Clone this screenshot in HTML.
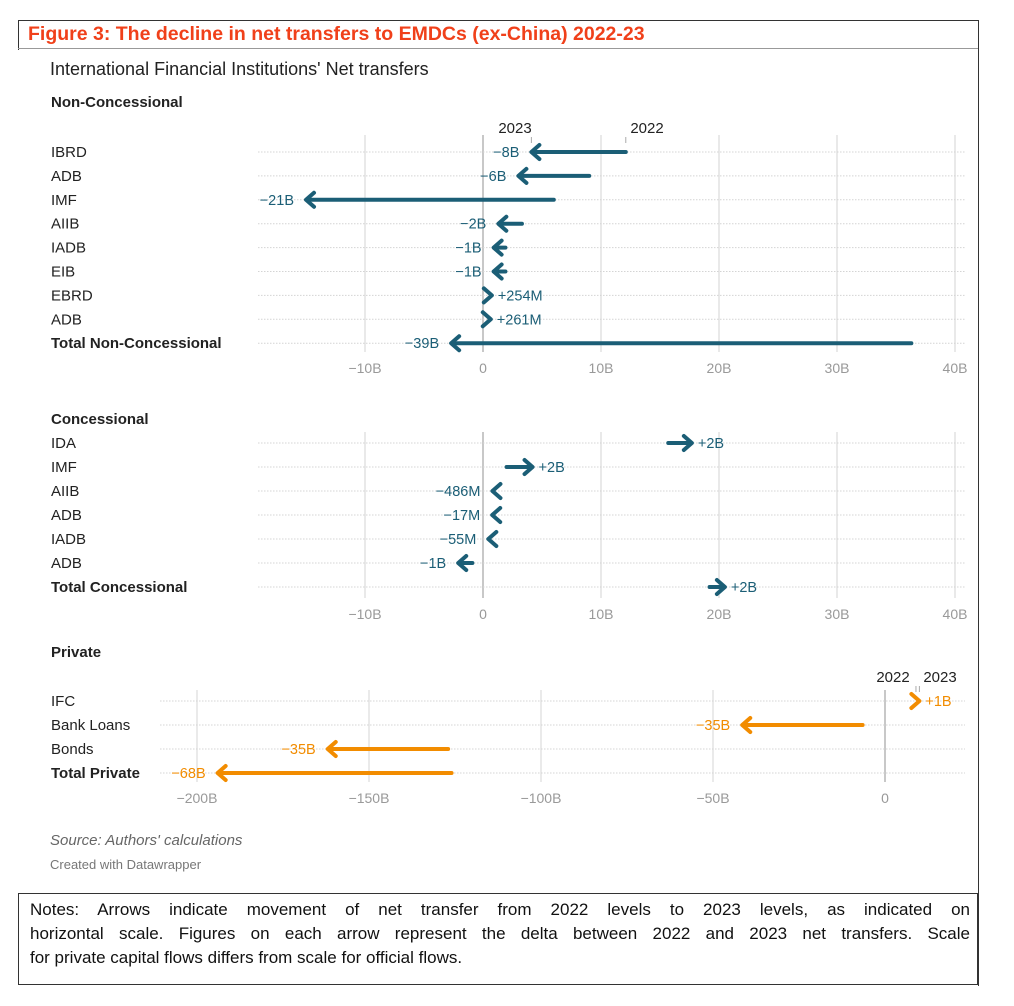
<!DOCTYPE html>
<html><head><meta charset="utf-8"><style>
body{margin:0;background:#fff;font-family:"Liberation Sans",sans-serif;}
#wrap{position:relative;width:1014px;height:1006px;overflow:hidden;}
.t{position:absolute;white-space:nowrap;}
.note{position:absolute;left:30px;width:940px;font-size:17px;color:#111;line-height:24px;}
.note div{text-align:justify;text-align-last:justify;}
</style></head><body>
<div id="wrap">
<div style="position:absolute;left:18px;top:20px;width:960px;height:1px;background:#333"></div>
<div style="position:absolute;left:18px;top:20px;width:1px;height:30px;background:#333"></div>
<div style="position:absolute;left:978px;top:20px;width:1px;height:966px;background:#333"></div>
<div style="position:absolute;left:18px;top:48px;width:960px;height:1px;background:#999"></div>
<div style="position:absolute;left:18px;top:893px;width:960px;height:92px;border:1px solid #333;box-sizing:border-box"></div>
<div class="t" style="left:28px;top:23px;font-size:19.5px;font-weight:bold;color:#f0401a">Figure 3: The decline in net transfers to EMDCs (ex-China) 2022-23</div>
<div class="t" style="left:50px;top:59px;font-size:18px;color:#222">International Financial Institutions' Net transfers</div>
<div class="t" style="left:50px;top:832px;font-size:15px;font-style:italic;color:#666">Source: Authors' calculations</div>
<div class="t" style="left:50px;top:857px;font-size:13px;color:#777">Created with Datawrapper</div>
<div class="note" style="top:898px">
<div>Notes: Arrows indicate movement of net transfer from 2022 levels to 2023 levels, as indicated on</div>
<div>horizontal scale. Figures on each arrow represent the delta between 2022 and 2023 net transfers. Scale</div>
<div style="text-align-last:left">for private capital flows differs from scale for official flows.</div>
</div>
<svg id="chart" width="1014" height="1006" style="position:absolute;left:0;top:0"></svg>
</div>
<script>
const ncLabels=["IBRD","ADB","IMF","AIIB","IADB","EIB","EBRD","ADB","Total Non-Concessional"];
const nc2022=[12.1,9,6,3.3,1.9,1.9,0.5,0.4,36.3];
const nc2023=[4.1,3,-15,1.3,0.9,0.9,0.75,0.66,-2.7];
const ncText=["−8B","−6B","−21B","−2B","−1B","−1B","+254M","+261M","−39B"];
const cLabels=["IDA","IMF","AIIB","ADB","IADB","ADB","Total Concessional"];
const c2022=[15.7,2,1.3,0.8,0.5,-0.9,19.2];
const c2023=[17.7,4.2,0.8,0.78,0.45,-2.1,20.5];
const cText=["+2B","+2B","−486M","−17M","−55M","−1B","+2B"];
const pLabels=["IFC","Bank Loans","Bonds","Total Private"];
const p2022=[9,-6.5,-127,-126];
const p2023=[10,-41.5,-162,-194];
const pText=["+1B","−35B","−35B","−68B"];
const officialTicks=[-10,0,10,20,30,40];
const officialTickText=["−10B","0","10B","20B","30B","40B"];
const privateTicks=[-200,-150,-100,-50,0];
const privateTickText=["−200B","−150B","−100B","−50B","0"];

const svg=document.getElementById('chart');
const NS='http://www.w3.org/2000/svg';
function mk(tag,attrs,parent){const e=document.createElementNS(NS,tag);for(const k in attrs)e.setAttribute(k,attrs[k]);(parent||svg).appendChild(e);return e;}
const xOff=v=>483+v*11.8;
const xPriv=v=>885+v*3.44;

function panel(cfg){
  const g=mk('g',{});
  
  
  const h=mk('text',{x:51,y:cfg.headY,'font-size':15,'font-weight':'bold',fill:'#222'},g);h.textContent=cfg.head;
  
  
  cfg.ticks.forEach((t,i)=>{
    const x=cfg.sx(t);
    const l=mk('line',{x1:x,x2:x,y1:cfg.gTop,y2:cfg.gBot,stroke:t===0?'#c8c8c8':'#e2e2e2','stroke-width':t===0?2:1.5},g);
    
    
    const tx=mk('text',{x:x,y:cfg.gBot+21,'font-size':14,fill:'#999','text-anchor':'middle'},g);tx.textContent=cfg.tickText[i];
    
    
  });
  cfg.labels.forEach((lab,i)=>{
    const y=cfg.y0+i*cfg.dy;
    const total=i===cfg.labels.length-1;
    const gl=mk('line',{x1:cfg.lineX,x2:965,y1:y,y2:y,stroke:'#d4d4d4','stroke-dasharray':'1.5 1.5'},g);
    
    
    const lt=mk('text',{x:51,y:y+5,'font-size':15,fill:'#222','font-weight':total?'bold':'normal'},g);lt.textContent=lab;
    
    
    const x1=cfg.sx(cfg.a[i]),x2=cfg.sx(cfg.b[i]);
    const dir=x2>=x1?1:-1;
    const ag=mk('g',{},g);
    
    
    const st={stroke:cfg.color,'stroke-width':4,'stroke-linecap':'round','stroke-linejoin':'round',fill:'none'};
    if(Math.abs(x2-x1)>9) mk('line',Object.assign({x1:x1,x2:x2-dir*1,y1:y,y2:y},st),ag);
    mk('polyline',Object.assign({points:`${x2-dir*8},${y-7} ${x2},${y} ${x2-dir*8},${y+7}`},st),ag);
    const vt=mk('text',{x:dir>0?x2+6:x2-12,y:y+5,'font-size':14.5,fill:cfg.color,'text-anchor':dir>0?'start':'end'},ag);
    vt.textContent=cfg.text[i];
  });
  return g;
}
panel({name:'non-concessional-panel',head:'Non-Concessional',headY:107,labels:ncLabels,a:nc2022,b:nc2023,text:ncText,sx:xOff,ticks:officialTicks,tickText:officialTickText,gTop:135,gBot:352,y0:152,dy:23.9,lineX:258,color:'#1b5e76'});
panel({name:'concessional-panel',head:'Concessional',headY:424,labels:cLabels,a:c2022,b:c2023,text:cText,sx:xOff,ticks:officialTicks,tickText:officialTickText,gTop:432,gBot:598,y0:443,dy:24,lineX:258,color:'#1b5e76'});
panel({name:'private-panel',head:'Private',headY:657,labels:pLabels,a:p2022,b:p2023,text:pText,sx:xPriv,ticks:privateTicks,tickText:privateTickText,gTop:690,gBot:782,y0:701,dy:24,lineX:160,color:'#f28c00'});

function ann(txt,x,y,tx){
  const t=mk('text',{x:x,y:y,'font-size':15,fill:'#222','text-anchor':'middle'});t.textContent=txt;
  
  
  mk('line',{x1:tx,x2:tx,y1:y+4,y2:y+10,stroke:'#aaa','stroke-width':1});
}
ann('2023',515,133,xOff(nc2023[0]));
ann('2022',647,133,xOff(nc2022[0]));
ann('2022',893,682,xPriv(p2022[0]));
ann('2023',940,682,xPriv(p2023[0]));
</script>
</body></html>
